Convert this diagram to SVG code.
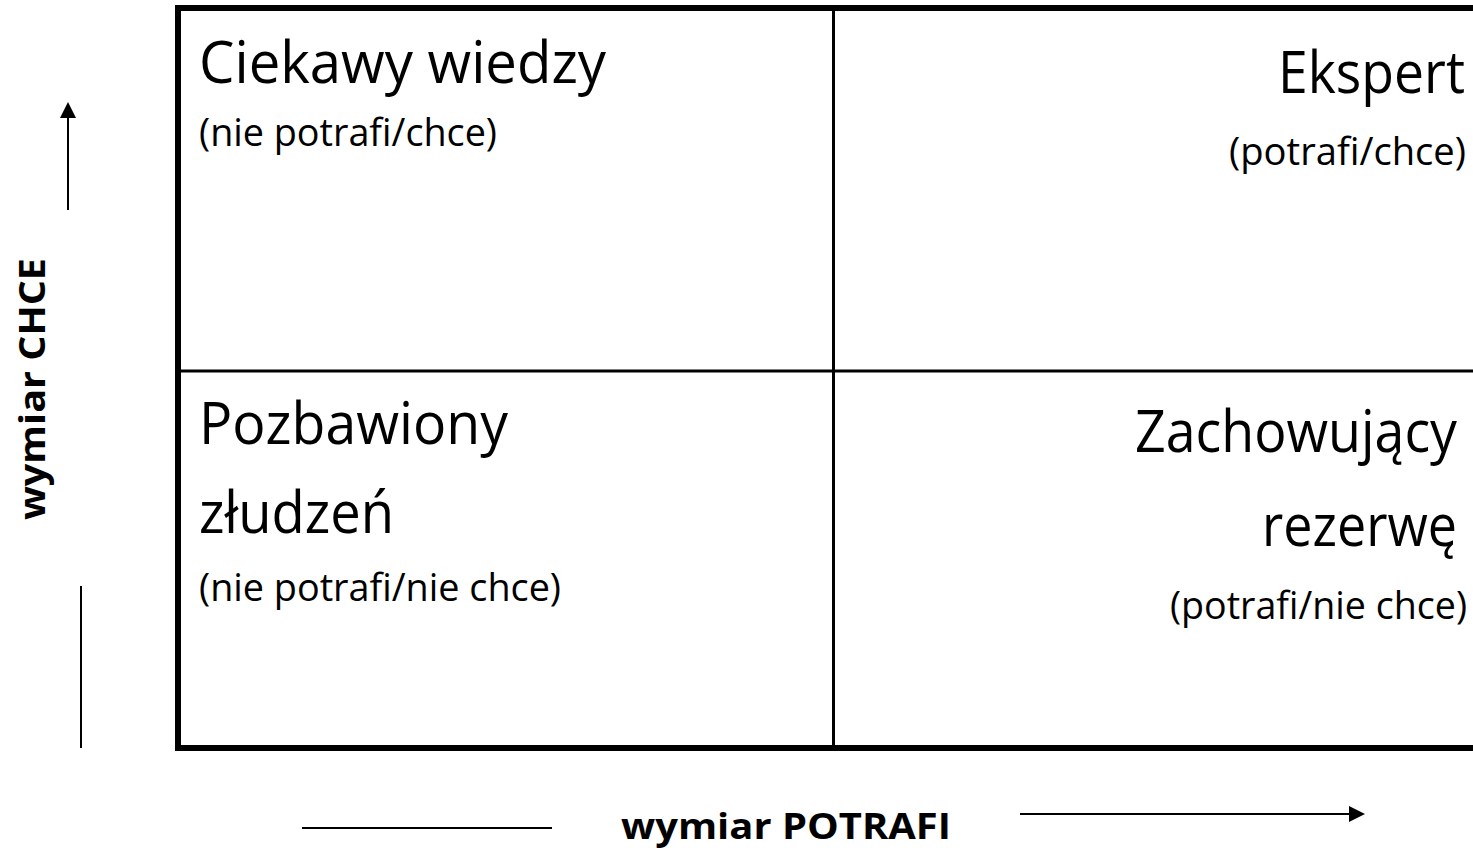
<svg xmlns="http://www.w3.org/2000/svg" width="1473" height="848" viewBox="0 0 1473 848">
  <style>
    .big { font-family: "Open Sans", "Liberation Sans", sans-serif; font-size: 58px; fill: #000; }
    .small { font-family: "Open Sans", "Liberation Sans", sans-serif; font-size: 38px; fill: #000; }
    .axis { font-family: "Open Sans", "Liberation Sans", sans-serif; font-size: 35px; font-weight: bold; fill: #000; }
    .end { text-anchor: end; }
    .thin { stroke: #000; stroke-width: 2; fill: none; }
  </style>
  <defs>
    <marker id="head" viewBox="0 0 16 16" refX="0" refY="8" markerWidth="16" markerHeight="16" markerUnits="userSpaceOnUse" orient="auto">
      <path d="M0,0 L16,8 L0,16 Z" fill="#000"/>
    </marker>
  </defs>

  <rect width="1473" height="848" fill="#fff"/>

  <!-- 2x2 grid -->
  <g id="grid">
    <rect x="178" y="8" width="1400" height="740" fill="none" stroke="#000" stroke-width="6"/>
    <line x1="833.5" y1="8" x2="833.5" y2="748" stroke="#000" stroke-width="3"/>
    <line x1="178" y1="371" x2="1480" y2="371" stroke="#000" stroke-width="3"/>
  </g>

  <g id="q-ciekawy">
    <text class="big" x="199" y="83" textLength="407" lengthAdjust="spacingAndGlyphs">Ciekawy wiedzy</text>
    <text class="small" x="199" y="146" textLength="298" lengthAdjust="spacingAndGlyphs">(nie potrafi/chce)</text>
  </g>

  <g id="q-ekspert">
    <text class="big end" x="1465" y="93" textLength="187" lengthAdjust="spacingAndGlyphs">Ekspert</text>
    <text class="small end" x="1466" y="165" textLength="237" lengthAdjust="spacingAndGlyphs">(potrafi/chce)</text>
  </g>

  <g id="q-pozbawiony">
    <text class="big" x="199" y="444" textLength="309" lengthAdjust="spacingAndGlyphs">Pozbawiony</text>
    <text class="big" x="199" y="533" textLength="195" lengthAdjust="spacingAndGlyphs">złudzeń</text>
    <text class="small" x="199" y="601" textLength="362" lengthAdjust="spacingAndGlyphs">(nie potrafi/nie chce)</text>
  </g>

  <g id="q-zachowujacy">
    <text class="big end" x="1457" y="452" textLength="322" lengthAdjust="spacingAndGlyphs">Zachowujący</text>
    <text class="big end" x="1457" y="546" textLength="195" lengthAdjust="spacingAndGlyphs">rezerwę</text>
    <text class="small end" x="1467" y="619" textLength="297" lengthAdjust="spacingAndGlyphs">(potrafi/nie chce)</text>
  </g>

  <!-- axis labels -->
  <g id="axis-chce">
    <text class="axis" transform="translate(45,389) rotate(-90)" text-anchor="middle" textLength="262" lengthAdjust="spacingAndGlyphs">wymiar CHCE</text>
  </g>
  <g id="axis-potrafi">
    <text class="axis" x="786" y="839" text-anchor="middle" textLength="330" lengthAdjust="spacingAndGlyphs">wymiar POTRAFI</text>
  </g>

  <!-- axis connectors -->
  <g id="connectors">
    <line class="thin" x1="68" y1="210" x2="68" y2="118" marker-end="url(#head)"/>
    <line class="thin" x1="81" y1="586" x2="81" y2="748"/>
    <line class="thin" x1="302" y1="828" x2="552" y2="828"/>
    <line class="thin" x1="1020" y1="814" x2="1349" y2="814" marker-end="url(#head)"/>
  </g>
</svg>
